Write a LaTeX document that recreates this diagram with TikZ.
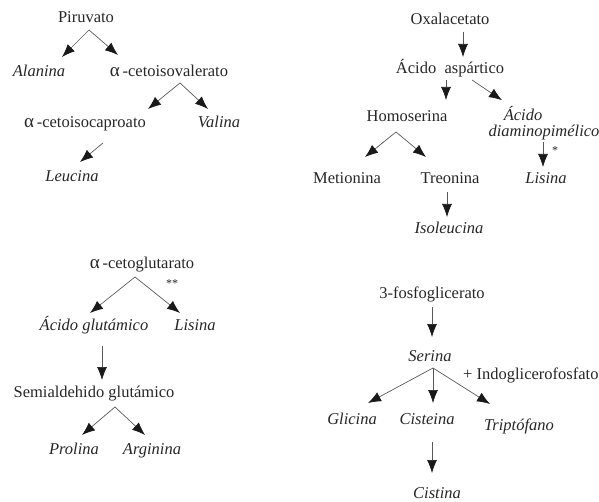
\documentclass[tikz,border=0pt]{standalone}
\usepackage{fontspec}
\setmainfont{Liberation Serif}
\usetikzlibrary{arrows.meta,calc}
\newcommand{\alf}{{\fontsize{19}{19}\selectfont α}}
\begin{document}
\begin{tikzpicture}[x=1pt,y=-1pt,
  lbl/.style={inner sep=0pt,text height=11pt,text depth=3.5pt,font=\fontsize{16.5}{18}\selectfont,text=black!85},
  itl/.style={lbl,font=\fontsize{16.5}{18}\selectfont\itshape},
  arr/.style={line width=0.7pt,draw=black!65,-{Latex[length=13pt,width=10pt,color=black!90]}}]
\useasboundingbox (0,0) rectangle (599,502);
% top left
\node[lbl] (pir) at (86,19) {Piruvato};
\node[itl] (ala) at (39,73) {Alanina};
\node[lbl] (civ) at (169,73) {\alf\,-cetoisovalerato};
\node[lbl] (cic) at (85,124) {\alf\,-cetoisocaproato};
\node[itl] (val) at (219,124) {Valina};
\node[itl] (leu) at (72,178) {Leucina};
\draw[arr] ($(pir.center)+(3,11)$) -- ($(ala.center)+(23,-16)$);
\draw[arr] ($(pir.center)+(3,11)$) -- ($(civ.center)+(-51,-18)$);
\draw[arr] ($(civ.center)+(11,10)$) -- ($(cic.center)+(63,-15)$);
\draw[arr] ($(civ.center)+(11,10)$) -- ($(val.center)+(-11,-15)$);
\draw[arr] ($(cic.center)+(18,19)$) -- ($(leu.center)+(8,-16)$);
% top right
\node[lbl] (oxa) at (450,21) {Oxalacetato};
\node[lbl] (asp) at (450,70) {Ácido\ \ aspártico};
\node[lbl] (hom) at (407,118) {Homoserina};
\node[itl] (dapa) at (523,117.2) {Ácido};
\node[itl] (dapb) at (544,132.8) {diaminopimélico};
\node[lbl] (met) at (347,180) {Metionina};
\node[lbl] (tre) at (450,180) {Treonina};
\node[itl] (lis) at (546,180) {Lisina};
\node[itl] (iso) at (449,230) {Isoleucina};
\node[lbl,font=\fontsize{12}{12}\selectfont] (st1) at (555,151) {*};
\draw[arr] ($(oxa.center)+(13,11)$) -- ($(asp.center)+(13,-13)$);
\draw[arr] ($(asp.center)+(-4,10)$) -- ($(hom.center)+(39,-18)$);
\draw[arr] ($(asp.center)+(22,10)$) -- ($(dapa.center)+(-21,-17)$);
\draw[arr] ($(hom.center)+(-11,14)$) -- ($(met.center)+(18,-23)$);
\draw[arr] ($(hom.center)+(-11,14)$) -- ($(tre.center)+(-24,-23)$);
\draw[arr] ($(dapb.center)+(-1,9)$) -- ($(lis.center)+(-3,-13)$);
\draw[arr] ($(tre.center)+(-3,12)$) -- ($(iso.center)+(-2,-13)$);
% bottom left
\node[lbl] (akg) at (142,265) {\alf\,-cetoglutarato};
\node[itl] (glu) at (94,327) {Ácido glutámico};
\node[itl] (lisb) at (195,327) {Lisina};
\node[lbl] (sem) at (94,394) {Semialdehido glutámico};
\node[itl] (pro) at (74,451) {Prolina};
\node[itl] (arg) at (152,451) {Arginina};
\node[lbl,font=\fontsize{12}{12}\selectfont] (st2) at (172,284) {**};
\draw[arr] ($(akg.center)+(-7,12)$) -- ($(glu.center)+(-4,-14)$);
\draw[arr] ($(akg.center)+(-7,12)$) -- ($(lisb.center)+(-15,-14)$);
\draw[arr] ($(glu.center)+(8,19)$) -- ($(sem.center)+(8,-14)$);
\draw[arr] ($(sem.center)+(21,13)$) -- ($(pro.center)+(8,-16)$);
\draw[arr] ($(sem.center)+(21,13)$) -- ($(arg.center)+(-7,-16)$);
% bottom right
\node[lbl] (pgf) at (432,295) {3-fosfoglicerato};
\node[itl] (ser) at (430,358) {Serina};
\node[lbl,anchor=west] (ind) at (463,376) {+ Indoglicerofosfato};
\node[itl] (gli) at (352,421) {Glicina};
\node[itl] (cis) at (427,421) {Cisteina};
\node[itl] (tri) at (519,427) {Triptófano};
\node[itl] (cst) at (437,495) {Cistina};
\draw[arr] ($(pgf.center)+(0,12)$) -- ($(ser.center)+(2,-21)$);
\draw[arr] ($(ser.center)+(3,10)$) -- ($(gli.center)+(16,-18)$);
\draw[arr] ($(ser.center)+(3,10)$) -- ($(cis.center)+(6,-18)$);
\draw[arr] ($(ser.center)+(3,10)$) -- ($(tri.center)+(-29,-23)$);
\draw[arr] ($(cis.center)+(5,21)$) -- ($(cst.center)+(-5,-22)$);
\end{tikzpicture}
\end{document}
